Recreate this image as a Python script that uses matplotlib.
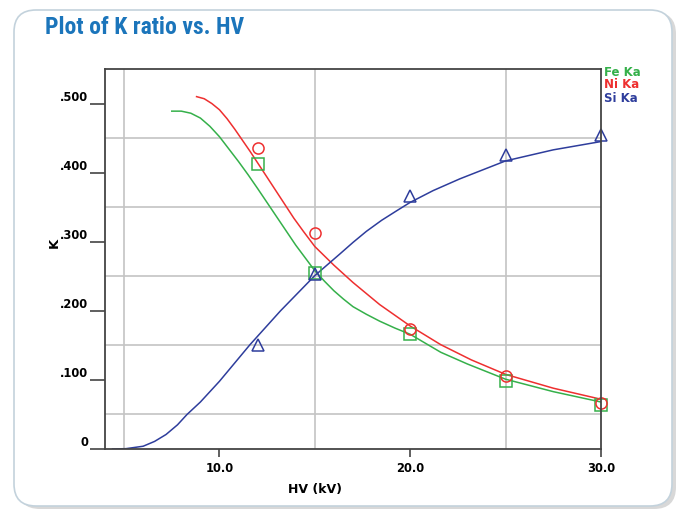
import matplotlib
matplotlib.use("Agg")
import matplotlib.pyplot as plt
from matplotlib import font_manager
from matplotlib.font_manager import FontProperties
from matplotlib.patches import FancyBboxPatch

# krzywe dopasowania
fe_hv = [7.5, 8.0, 8.5, 9.0, 9.5, 10.0, 10.5, 11.0, 11.5, 12.0, 13.0, 14.0, 15.0, 15.5, 16.0, 16.5, 17.0, 17.7, 18.4, 19.2, 20.0, 21.6, 23.0, 25.0, 27.5, 30.0]
fe_k = [0.489, 0.489, 0.486, 0.479, 0.467, 0.452, 0.434, 0.416, 0.397, 0.377, 0.336, 0.295, 0.258, 0.243, 0.229, 0.217, 0.206, 0.195, 0.185, 0.175, 0.166, 0.140, 0.123, 0.101, 0.083, 0.068]
ni_hv = [8.8, 9.2, 9.6, 10.0, 10.4, 10.8, 11.1, 11.6, 12.1, 13.0, 13.9, 14.4, 15.0, 16.0, 17.0, 18.4, 20.0, 21.6, 23.2, 25.0, 27.5, 30.0]
ni_k = [0.510, 0.507, 0.500, 0.491, 0.478, 0.463, 0.451, 0.431, 0.410, 0.372, 0.334, 0.315, 0.293, 0.266, 0.241, 0.209, 0.178, 0.151, 0.129, 0.108, 0.088, 0.072]
si_hv = [4.4, 5.1, 6.0, 6.6, 7.2, 7.8, 8.3, 9.0, 10.0, 11.6, 13.2, 15.0, 16.3, 17.0, 17.7, 18.5, 19.3, 20.0, 21.2, 22.6, 25.0, 27.5, 30.0]
si_k = [0.0, 0.0005, 0.004, 0.011, 0.021, 0.035, 0.050, 0.068, 0.098, 0.151, 0.200, 0.251, 0.282, 0.299, 0.315, 0.331, 0.345, 0.357, 0.374, 0.391, 0.417, 0.433, 0.445]

# punkty pomiarowe
meas_hv = [12, 15, 20, 25, 30]
fe_meas = [0.412, 0.255, 0.167, 0.099, 0.063]
ni_meas = [0.436, 0.313, 0.173, 0.105, 0.067]
si_meas = [0.150, 0.253, 0.366, 0.426, 0.455]

green = "#35b04a"
red = "#ee2f2f"
blue = "#2e3d9c"

# waska, pogrubiona czcionka do tytulu
def is_bold(f):
    w = f.weight
    return w in ("bold", "semibold", "demibold") or (isinstance(w, int) and w >= 600)

def order(f):
    for i, key in enumerate(["Liberation Sans Narrow", "Roboto Condensed", "Open Sans Condensed"]):
        if f.name.startswith(key):
            return i
    return 9

cands = [f for f in font_manager.fontManager.ttflist
         if ("Narrow" in f.name or "Condensed" in f.name or "condensed" in str(f.stretch)) and is_bold(f)]
cands.sort(key=order)
if cands:
    title_fp = FontProperties(fname=cands[0].fname, size=15)
else:
    title_fp = FontProperties(family="Roboto", weight="bold", size=15)

fig = plt.figure(figsize=(6.81, 5.09), dpi=100)
fig.patch.set_facecolor("white")

# karta z cieniem
shadow = FancyBboxPatch((0.18, 0.0), 6.58, 4.97, boxstyle="round,pad=0,rounding_size=0.22",
                        transform=fig.dpi_scale_trans, facecolor="#d8d8d8", edgecolor="none", zorder=0)
card = FancyBboxPatch((0.14, 0.03), 6.58, 4.96, boxstyle="round,pad=0,rounding_size=0.22",
                      transform=fig.dpi_scale_trans, facecolor="white", edgecolor="#c3d2dc", linewidth=1.2, zorder=1)
fig.patches.extend([shadow, card])

title = fig.text(45/681, 1-28/509, "Plot of K ratio vs. HV", color="#1b75bb",
                 fontproperties=title_fp, va="center", ha="left")
# dopasuj rozmiar tytulu do szerokosci ~213 px
r = fig.canvas.get_renderer()
w = title.get_window_extent(r).width
title_fp.set_size(min(17, 15 * 213 / w))
title.set_fontproperties(title_fp)

ax = fig.add_axes([105/681, 1-449/509, 496/681, 380/509])
ax.set_zorder(2)
ax.set_facecolor("white")

ax.plot(fe_hv, fe_k, color=green, lw=1.1)
ax.plot(ni_hv, ni_k, color=red, lw=1.1)
ax.plot(si_hv, si_k, color=blue, lw=1.1)
ax.plot(meas_hv, fe_meas, "s", mfc="none", mec=green, ms=8, mew=1.1, clip_on=False)
ax.plot(meas_hv, ni_meas, "o", mfc="none", mec=red, ms=8, mew=1.1, clip_on=False)
ax.plot(meas_hv, si_meas, "^", mfc="none", mec=blue, ms=8.5, mew=1.1, clip_on=False)

ax.set_xlim(4, 30)
ax.set_ylim(0, 0.55)
ax.set_xticks([10, 20, 30])
ax.set_xticklabels(["10.0", "20.0", "30.0"])
ax.set_yticks([0, 0.1, 0.2, 0.3, 0.4, 0.5])
ax.set_yticklabels(["0", ".100", ".200", ".300", ".400", ".500"])
ax.set_xticks([5, 10, 15, 20, 25], minor=True)
ax.set_yticks([0.05 * i for i in range(1, 11)], minor=True)
ax.grid(which="minor", color="#c4c4c4", lw=1.2)
ax.tick_params(which="minor", length=0)
ax.tick_params(axis="y", which="major", length=11, width=1.2, color="#444444", pad=1)
ax.tick_params(axis="x", which="major", length=6, width=1.2, color="#444444", pad=3)
for lab in ax.get_xticklabels() + ax.get_yticklabels():
    lab.set_fontweight("bold")
    lab.set_fontsize(8.3)
plt.setp(ax.get_yticklabels(), va="bottom")
for s in ax.spines.values():
    s.set_color("#444444")
    s.set_linewidth(1.3)

ax.set_xlabel("HV (kV)", fontsize=9, fontweight="bold")
ax.xaxis.set_label_coords(0.423, -0.09)
ax.set_ylabel("K", fontsize=9.5, fontweight="bold")
ax.yaxis.set_label_coords(-0.09, 0.543)

for name, col, y in [("Fe Ka", green, 72), ("Ni Ka", red, 85), ("Si Ka", blue, 98.5)]:
    fig.text(604/681, 1-y/509, name, color=col, fontsize=8.5, fontweight="bold", va="center", ha="left")

fig.savefig("out.png", dpi=100)
